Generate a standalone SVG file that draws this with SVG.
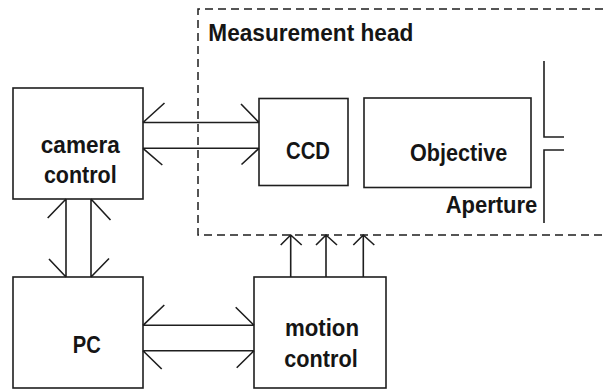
<svg xmlns="http://www.w3.org/2000/svg" width="603" height="389" viewBox="0 0 603 389">
<style>
.box{fill:#fff;stroke:#1e1e1e;stroke-width:1.6}
.ln{fill:none;stroke:#1e1e1e;stroke-width:1.6}
.dash{fill:none;stroke:#1e1e1e;stroke-width:1.5;stroke-dasharray:8 5}
.t{font-family:"Liberation Sans",Arial,sans-serif;font-weight:bold;font-size:23px;fill:#151515}
.m{text-anchor:middle}
</style>
<rect width="603" height="389" fill="#fff"/>
<g id="measurement-head">
<path class="dash" d="M603,9 H198 V235 H603"/>
<text class="t" x="208.3" y="40.7" textLength="205" lengthAdjust="spacingAndGlyphs">Measurement head</text>
</g>
<g id="camera-control">
<rect class="box" x="13" y="88" width="130" height="111"/>
<text class="t m" x="80.3" y="153.3" textLength="79" lengthAdjust="spacingAndGlyphs">camera</text>
<text class="t m" x="80.3" y="182.7" textLength="72.7" lengthAdjust="spacingAndGlyphs">control</text>
</g>
<g id="pc">
<rect class="box" x="13" y="277" width="130" height="111"/>
<text class="t m" x="86.7" y="353.3" textLength="28" lengthAdjust="spacingAndGlyphs">PC</text>
</g>
<g id="motion-control">
<rect class="box" x="254" y="277" width="132" height="111"/>
<text class="t m" x="322" y="336" textLength="74" lengthAdjust="spacingAndGlyphs">motion</text>
<text class="t m" x="321" y="366.7" textLength="73.4" lengthAdjust="spacingAndGlyphs">control</text>
</g>
<g id="ccd">
<rect class="box" x="259" y="98.5" width="89" height="87"/>
<text class="t m" x="308" y="159.3" textLength="44" lengthAdjust="spacingAndGlyphs">CCD</text>
</g>
<g id="objective">
<rect class="box" x="364" y="98" width="167" height="89.5"/>
<text class="t m" x="458.7" y="160.7" textLength="97.3" lengthAdjust="spacingAndGlyphs">Objective</text>
</g>
<g id="aperture">
<path class="ln" d="M544,61 V137 H564 M564,150 H544 V223"/>
<text class="t" x="445.7" y="213.3" textLength="91.6" lengthAdjust="spacingAndGlyphs">Aperture</text>
</g>
<g id="connectors">
<path class="ln" d="M143,122.5 H259 M164.5,103 L143,122.5 M241,104 L259,122.5"/>
<path class="ln" d="M143,148.3 H259 M162.3,165 L143,148.3 M241.5,164.5 L259,148.3"/>
<path class="ln" d="M66,199 V277 M47.7,218 L66,199 M49,259 L66,277"/>
<path class="ln" d="M91,199 V277 M110.5,220 L91,199 M109,258.5 L91,277"/>
<path class="ln" d="M143,325.3 H254 M164.3,305 L143,325.3 M235.7,307.3 L254,325.3"/>
<path class="ln" d="M143,350.8 H254 M161.7,369 L143,350.8 M236.7,367.7 L254,350.8"/>
<path class="ln" d="M290.7,277 V235 M280.7,245 L290.7,235 L301.7,245"/>
<path class="ln" d="M326,277 V235 M316,245 L326,235 L337,245"/>
<path class="ln" d="M363.3,277 V235 M353.3,245 L363.3,235 L374.3,245"/>
</g>
</svg>
